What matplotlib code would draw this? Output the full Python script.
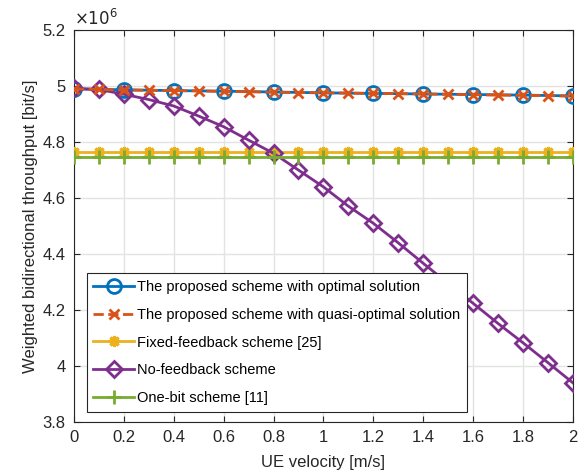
import numpy as np
import matplotlib; matplotlib.use("Agg")
import matplotlib.pyplot as plt

plt.rcParams["font.family"] = ["Liberation Sans", "DejaVu Sans"]

# UE velocity [m/s]
v_opt = [0.0, 0.2, 0.4, 0.6, 0.8, 1.0, 1.2, 1.4, 1.6, 1.8, 2.0]
v_all = [0.0, 0.1, 0.2, 0.3, 0.4, 0.5, 0.6, 0.7, 0.8, 0.9, 1.0,
         1.1, 1.2, 1.3, 1.4, 1.5, 1.6, 1.7, 1.8, 1.9, 2.0]

# throughput in units of 1e6 bit/s
optimal = [4.990, 4.987, 4.984, 4.982, 4.979, 4.976, 4.974, 4.972, 4.970, 4.968, 4.965]
quasi = [4.990, 4.988, 4.986, 4.985, 4.984, 4.983, 4.981, 4.980, 4.978, 4.977, 4.976,
         4.975, 4.974, 4.973, 4.972, 4.971, 4.969, 4.968, 4.967, 4.966, 4.964]
fixed = [4.765] * 21
nofb = [4.992, 4.988, 4.971, 4.952, 4.929, 4.893, 4.855, 4.807, 4.760, 4.700, 4.640,
        4.571, 4.510, 4.440, 4.367, 4.295, 4.224, 4.152, 4.083, 4.012, 3.940]
onebit = [4.747] * 21

labels = ["The proposed scheme with optimal solution",
          "The proposed scheme with quasi-optimal solution",
          "Fixed-feedback scheme [25]",
          "No-feedback scheme",
          "One-bit scheme [11]"]
C = ["#0072BD", "#D95319", "#EDB120", "#7E2F8E", "#77AC30"]

fig = plt.figure(figsize=(5.87, 4.71), dpi=100)
ax = fig.add_axes([0.126, 0.104, 0.850, 0.832])

lw = 2.0
ax.plot(v_opt, optimal, "-o", color=C[0], lw=lw, ms=10, mfc="none", mew=2.0, label=labels[0], zorder=3)
ax.plot(v_all, quasi, "--x", color=C[1], lw=lw, ms=6.5, mew=2.0, label=labels[1], zorder=4)
ax.plot(v_all, fixed, "-", marker=(8, 2, 0), color=C[2], lw=lw, ms=8, mew=2.2, label=labels[2], zorder=3)
ax.plot(v_all, nofb, "-D", color=C[3], lw=lw, ms=8, mfc="none", mew=2.0, label=labels[3], zorder=3)
ax.plot(v_all, onebit, "-+", color=C[4], lw=lw, ms=10, mew=2.0, label=labels[4], zorder=3)

ax.set_xlim(0, 2)
ax.set_ylim(3.8, 5.2)
ax.set_xticks(np.arange(0, 2.01, 0.2))
ax.set_xticklabels(["0", "0.2", "0.4", "0.6", "0.8", "1", "1.2", "1.4", "1.6", "1.8", "2"])
ax.set_yticks([3.8, 4.0, 4.2, 4.4, 4.6, 4.8, 5.0, 5.2])
ax.set_yticklabels(["3.8", "4", "4.2", "4.4", "4.6", "4.8", "5", "5.2"])
ax.grid(True, color="#E3E3E3", lw=1.0)
ax.set_axisbelow(True)
ax.tick_params(direction="in", top=True, right=True, labelsize=12, colors="#262626",
               length=4, pad=6)
for s in ax.spines.values():
    s.set_color("#262626")
    s.set_linewidth(0.8)
ax.set_xlabel("UE velocity [m/s]", fontsize=12, color="#262626", labelpad=7)
ax.set_ylabel("Weighted bidirectional throughput [bit/s]", fontsize=12, color="#262626", labelpad=3)
ax.text(0.0, 1.005, r"$\times10^{6}$", transform=ax.transAxes, fontsize=12,
        color="#262626", ha="left", va="bottom")

leg = ax.legend(loc="lower left", bbox_to_anchor=(0.026, 0.026), borderaxespad=0,
                fontsize=10.5, handlelength=2.8, fancybox=False, framealpha=1,
                edgecolor="#262626", borderpad=0.45, labelspacing=0.95, handletextpad=0.2)
leg.get_frame().set_linewidth(0.8)

fig.savefig("out.png", dpi=100)
